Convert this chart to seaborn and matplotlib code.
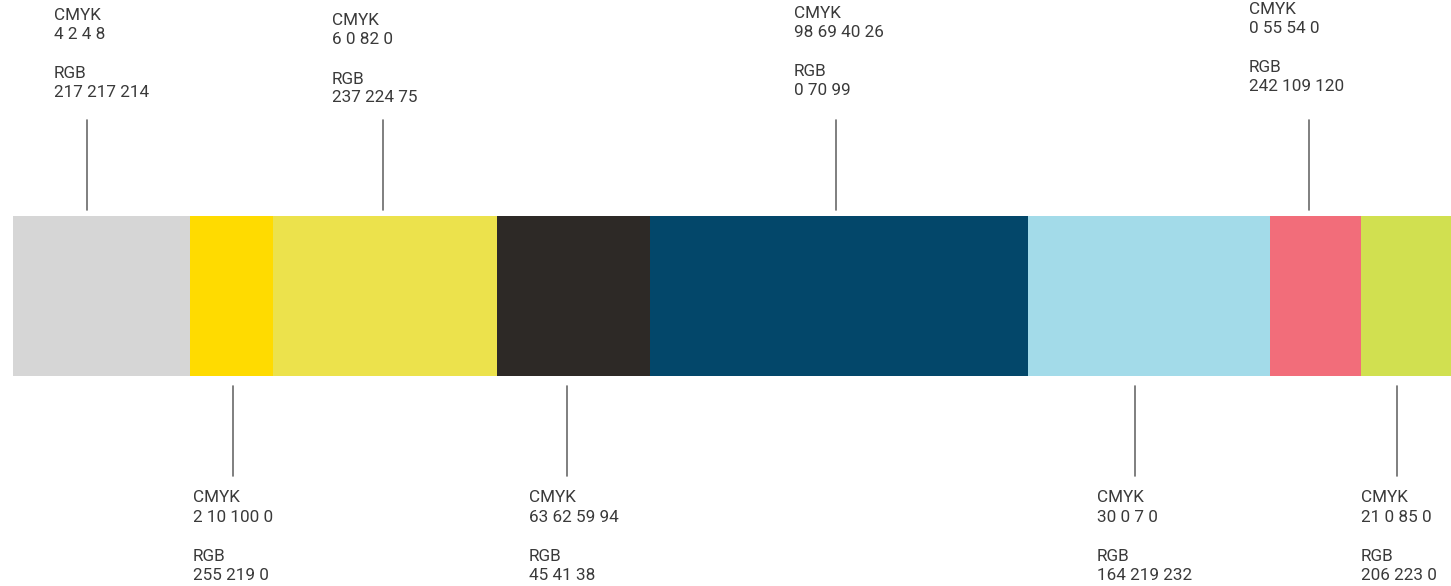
import matplotlib
matplotlib.use("Agg")
import matplotlib.pyplot as plt
import seaborn as sns
import pandas as pd

# palette swatches, left to right (strip widths)
swatch_names = ["grey", "yellow", "lemon", "charcoal", "navy", "sky", "coral", "lime"]
swatch_widths = [177, 83, 224, 153, 378, 242, 91, 90]
# colours as they appear on the strip
swatch_colors = ["#d6d6d6", "#ffdb00", "#ece24c", "#2d2926",
                 "#03476a", "#a3dbe9", "#f26d7a", "#d1e050"]
cmyk_values = ["4 2 4 8", "2 10 100 0", "6 0 82 0", "63 62 59 94",
               "98 69 40 26", "30 0 7 0", "0 55 54 0", "21 0 85 0"]
rgb_values = ["217 217 214", "255 219 0", "237 224 75", "45 41 38",
              "0 70 99", "164 219 232", "242 109 120", "206 223 0"]

# layout (figure is laid out in pixel units, y grows downwards)
bar_centre, bar_height = 296, 160
leader_x = [74, 220, 370, 554, 823, 1122, 1296, 1384]
label_x = [41, 180, 319, 516, 781, 1084, 1236, 1348]
top_baseline = {0: 20, 2: 25, 4: 18, 6: 14}
bottom_baseline = 502.5
line_offsets = [0, 19, 58.5, 77]
text_color = "#3a3a3a"

sns.set_theme(style="white")
plt.rcParams["font.family"] = ["DejaVu Sans Condensed", "Roboto", "DejaVu Sans"]

df = pd.DataFrame({"name": swatch_names, "width": swatch_widths})
df["right"] = df["width"].cumsum()
df["row"] = float(bar_centre)
palette = dict(zip(swatch_names, swatch_colors))

fig = plt.figure(figsize=(14.51, 5.86), dpi=100)
ax = fig.add_axes([0, 0, 1, 1])

# stacked strip: cumulative bars drawn widest first, so each one covers the next
sns.barplot(data=df, x="right", y="row", hue="name", hue_order=swatch_names[::-1],
            palette=palette, saturation=1, orient="y", native_scale=True, dodge=False,
            width=bar_height, linewidth=0, errorbar=None, legend=False, ax=ax)

for i, name in enumerate(swatch_names):
    if i % 2 == 0:
        ax.plot([leader_x[i], leader_x[i]], [120, 210], color="#6a6a6a", lw=1.2)
        base = top_baseline[i]
    else:
        ax.plot([leader_x[i], leader_x[i]], [386, 476], color="#6a6a6a", lw=1.2)
        base = bottom_baseline
    lines = ["CMYK", cmyk_values[i], "RGB", rgb_values[i]]
    for txt, off in zip(lines, line_offsets):
        ax.text(label_x[i], base + off, txt, fontsize=12.3, color=text_color,
                ha="left", va="baseline")

ax.set_xlim(-13, sum(swatch_widths))
ax.set_ylim(586, 0)
ax.axis("off")

fig.savefig("out.png", dpi=100)
plt.close()
